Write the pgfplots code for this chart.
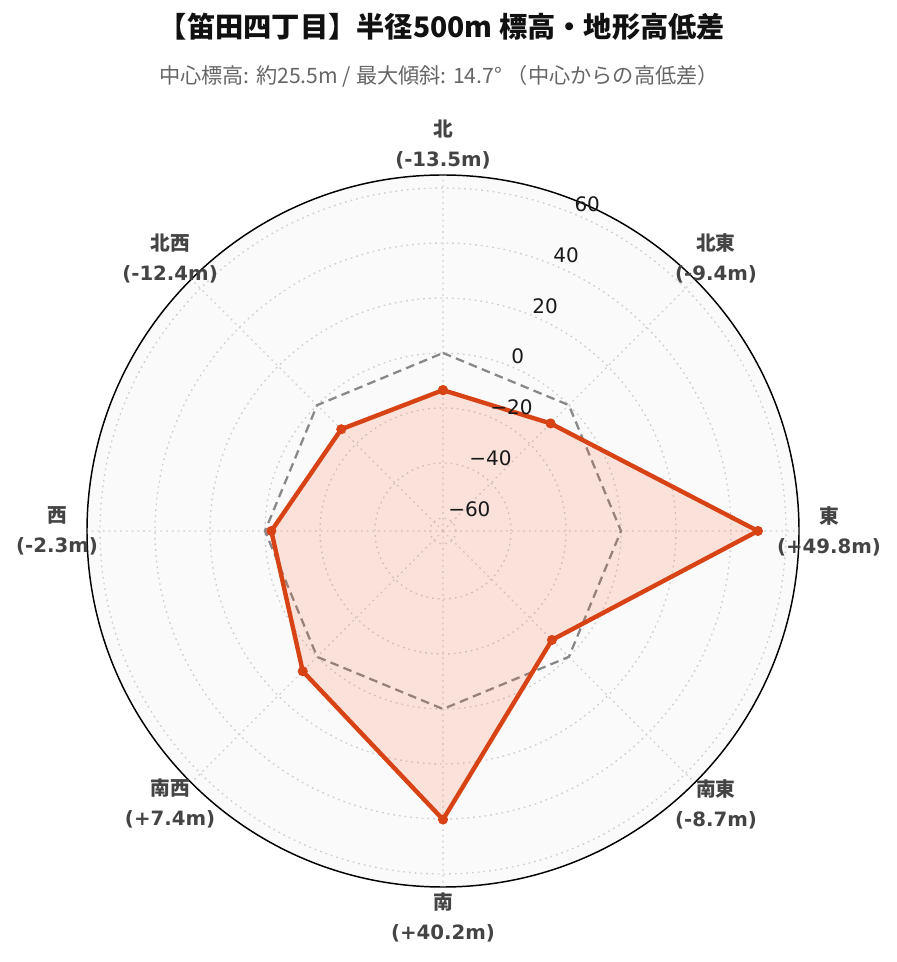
\documentclass[border=0pt]{standalone}
\usepackage{fontspec}
\setmainfont{DejaVu Sans}
\newfontfamily\cjk{Noto Sans CJK JP}
\usepackage{pgfplots}
\pgfplotsset{compat=1.18}
\usepgfplotslibrary{polar}
\definecolor{redline}{HTML}{D84315}
\definecolor{redfill}{HTML}{FF5722}
\definecolor{lab}{HTML}{444444}
\definecolor{sub}{HTML}{666666}
\definecolor{ttl}{HTML}{111111}
\definecolor{zero}{HTML}{888888}
\definecolor{bg}{HTML}{FAFAFA}
\definecolor{gridc}{HTML}{D0D0D0}
\begin{document}
\begin{tikzpicture}[x=0.75pt,y=0.75pt,
  rlab/.style={anchor=west, inner sep=0pt, yshift=7.5pt, font=\fontsize{15}{16}\selectfont, text=black!90},
  dlab/.style={align=center, font=\bfseries\fontsize{14.8}{22.5}\selectfont, text=lab}]
\path[use as bounding box] (0,0) rectangle (896,962);
\node[font=\cjk\bfseries\fontsize{21.2}{25}\selectfont, text=ttl] at (442,935) {【笛田四丁目】半径500m 標高・地形高低差};
\node[font=\cjk\fontsize{15.9}{18}\selectfont, text=sub] at (439,886) {中心標高: 約25.5m / 最大傾斜: 14.7° （中心からの高低差）};
\begin{polaraxis}[
  at={(332.25pt,323.25pt)}, anchor=center,
  scale only axis, width=534pt, height=534pt,
  ymin=0, ymax=129.48,
  xtick={0,45,...,315}, xticklabels={},
  ytick={4.74,24.74,44.74,64.74,84.74,104.74,124.74},
  yticklabels={},
  major tick length=0pt,
  grid=major,
  major grid style={dash pattern=on 1.3pt off 3pt, color=gridc, line width=1pt},
  axis line style={black, line width=1.1pt},
  y axis line style={draw=none},
  axis background/.style={fill=bg},
  y filter/.expression={y+64.74},
  clip=false,
]
\addplot[zero, line width=1.7pt, dash pattern=on 6.5pt off 4pt] coordinates {(90,0)(45,0)(0,0)(315,0)(270,0)(225,0)(180,0)(135,0)(90,0)};
\addplot[draw=redline, line width=3.3pt, fill=redfill, fill opacity=0.15,
  mark=*, mark size=3.5pt, mark options={fill=redline, draw=redline, line width=0.5pt, fill opacity=1}]
  coordinates {(90,-13.5)(45,-9.4)(0,49.8)(315,-8.7)(270,40.2)(225,7.4)(180,-2.3)(135,-12.4)(90,-13.5)};
\node[rlab] at (axis cs:67.5,4.74) {−60};
\node[rlab] at (axis cs:67.5,24.74) {−40};
\node[rlab] at (axis cs:67.5,44.74) {−20};
\node[rlab] at (axis cs:67.5,64.74) {0};
\node[rlab] at (axis cs:67.5,84.74) {20};
\node[rlab] at (axis cs:67.5,104.74) {40};
\node[rlab] at (axis cs:67.5,124.74) {60};
\node[dlab] at (axis cs:90,140.4) {{\cjk 北}\\(-13.5m)};
\node[dlab] at (axis cs:45,140.4) {{\cjk 北東}\\(-9.4m)};
\node[dlab] at (axis cs:0,140.4) {{\cjk 東}\\(+49.8m)};
\node[dlab] at (axis cs:315,140.4) {{\cjk 南東}\\(-8.7m)};
\node[dlab] at (axis cs:270,140.4) {{\cjk 南}\\(+40.2m)};
\node[dlab] at (axis cs:225,140.4) {{\cjk 南西}\\(+7.4m)};
\node[dlab] at (axis cs:180,140.4) {{\cjk 西}\\(-2.3m)};
\node[dlab] at (axis cs:135,140.4) {{\cjk 北西}\\(-12.4m)};
\end{polaraxis}
\end{tikzpicture}
\end{document}
